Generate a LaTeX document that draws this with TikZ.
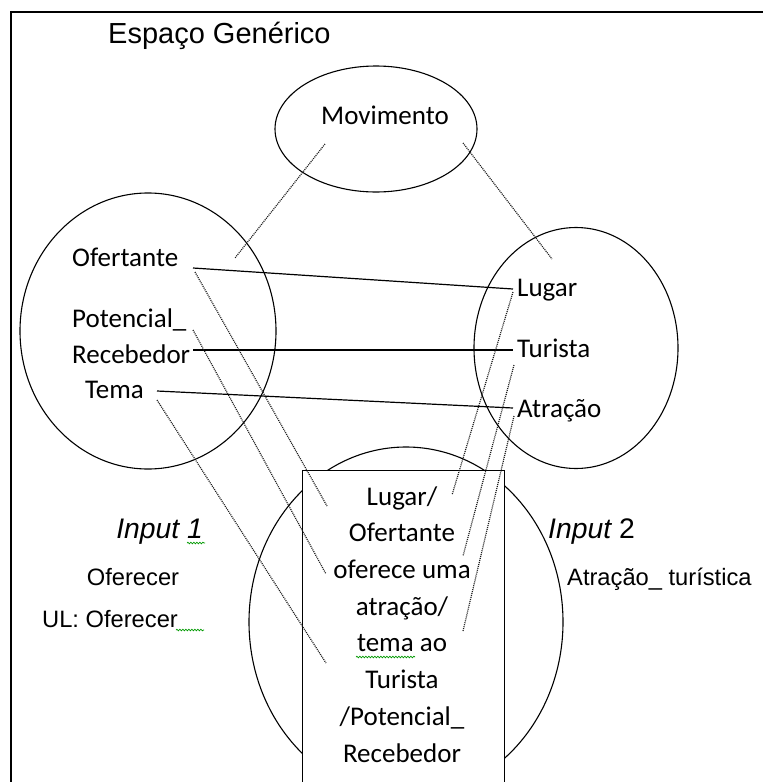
\documentclass[tikz,border=0pt]{standalone}
\usepackage{fontspec}
\setmainfont{Carlito}
\newfontfamily\arialf{Liberation Sans}
\usetikzlibrary{shapes.geometric,decorations.pathmorphing}

\tikzset{
  ring/.style={draw, ellipse, line width=1.1pt, inner sep=0pt},
  cal/.style={font=\fontsize{27}{32}\selectfont, inner sep=0pt},
  ari/.style={font=\arialf\fontsize{23.7}{28}\selectfont, inner sep=0pt},
  link/.style={line width=1.2pt},
  map/.style={line width=1.2pt, dash pattern=on 1pt off 1pt, black!90},
  spell/.style={green!60!black, line width=0.7pt, decorate,
    decoration={snake, amplitude=0.8pt, segment length=3pt}},
}

\begin{document}
\begin{tikzpicture}[x=1pt,y=-1pt]
\useasboundingbox (0,0) rectangle (763,782);
\clip (0,0) rectangle (763,782);

% frame: top and left rules
\draw[line width=2.5pt] (10,12) -- (763,12);
\draw[line width=2.5pt] (11,10.75) -- (11,782);

\node[inner sep=0pt, anchor=base west, font=\arialf\fontsize{29}{34}\selectfont] (title) at (108,43) {Espaço Genérico};

% mental spaces
\node[ring, minimum width=202pt, minimum height=126pt] (movE) at (376,129) {};
\node[ring, minimum width=256pt, minimum height=276pt] (in1E) at (148,331) {};
\node[ring, minimum width=204pt, minimum height=241pt] (in2E) at (576,348) {};
\node[ring, minimum width=314pt, minimum height=350pt] (blendE) at (406,622) {};
\node[draw, fill=white, line width=1.3pt, minimum width=202pt, minimum height=400pt,
      anchor=north west, inner sep=0pt] (box) at (302,470) {};

% labels inside the spaces
\node[cal, anchor=base] (mov) at (385,124) {Movimento};
\node[cal, anchor=base west] (ofert) at (72,266) {Ofertante};
\node[cal, anchor=base west] (pot) at (72,327) {Potencial\_};
\node[cal, anchor=base west] (rec) at (72,363) {Recebedor};
\node[cal, anchor=base west] (tema) at (85,398) {Tema};
\node[cal, anchor=base west] (lugar) at (517,296) {Lugar};
\node[cal, anchor=base west] (tur) at (517,357) {Turista};
\node[cal, anchor=base west] (atr) at (517,417) {Atração};

% blended space text (node base sits on the last line)
\node[cal, align=center, font=\fontsize{27}{36.7}\selectfont, anchor=base] (blend) at (402,762)
  {Lugar/\\Ofertante\\oferece uma\\atração/\\tema ao\\Turista\\/Potencial\_\\Recebedor};

% input labels
\node[inner sep=0pt, anchor=base east, font=\arialf\itshape\fontsize{28.3}{33}\selectfont] (in1) at (203,538) {Input 1};
\node[ari, anchor=base] (ofe) at (133,585) {Oferecer};
\node[ari, anchor=base west] (ul) at (42,627) {UL: Oferecer};
\node[inner sep=0pt, anchor=base west, font=\arialf\fontsize{28.3}{33}\selectfont] (in2) at (548,538) {\itshape Input\upshape\ 2};
\node[ari, anchor=base west] (atrT) at (567,585) {Atração\_ turística};

% connector end points
\coordinate (movL) at (325,144);   \coordinate (ofertD) at (235,258);
\coordinate (movR) at (463,143);   \coordinate (lugarD) at (552,259);
\coordinate (ofertE) at (193,268); \coordinate (lugarW) at (513,289);
\coordinate (ofertS) at (195,272); \coordinate (bLugar) at (327,506);
\coordinate (lugarS) at (513,292); \coordinate (bLugarR) at (452,495);
\coordinate (recE) at (193,350);   \coordinate (turW) at (513,350);
\coordinate (potE) at (193,330);   \coordinate (bOferece) at (326,574);
\coordinate (turS) at (514,365);   \coordinate (bOfereceR) at (463,556);
\coordinate (temaE) at (157,391);  \coordinate (atrW) at (513,408);
\coordinate (temaS) at (157,400);  \coordinate (bTema) at (326,663);
\coordinate (atrS) at (514,416);   \coordinate (bTemaR) at (463,631);

% generic space to inputs
\draw[map] (movL) -- (ofertD);
\draw[map] (movR) -- (lugarD);

% cross-space mappings
\draw[link] (ofertE) -- (lugarW);
\draw[link] (recE) -- (turW);
\draw[link] (temaE) -- (atrW);

% projections into the blend
\draw[map] (ofertS) -- (bLugar);
\draw[map] (potE) -- (bOferece);
\draw[map] (temaS) -- (bTema);
\draw[map] (lugarS) -- (bLugarR);
\draw[map] (turS) -- (bOfereceR);
\draw[map] (atrS) -- (bTemaR);

% spell-check underlines
\draw[spell] (187,543) -- (205,543);
\draw[spell] (176,630) -- (204,630);
\draw[spell] (356,657) -- (415,657);
\end{tikzpicture}
\end{document}
